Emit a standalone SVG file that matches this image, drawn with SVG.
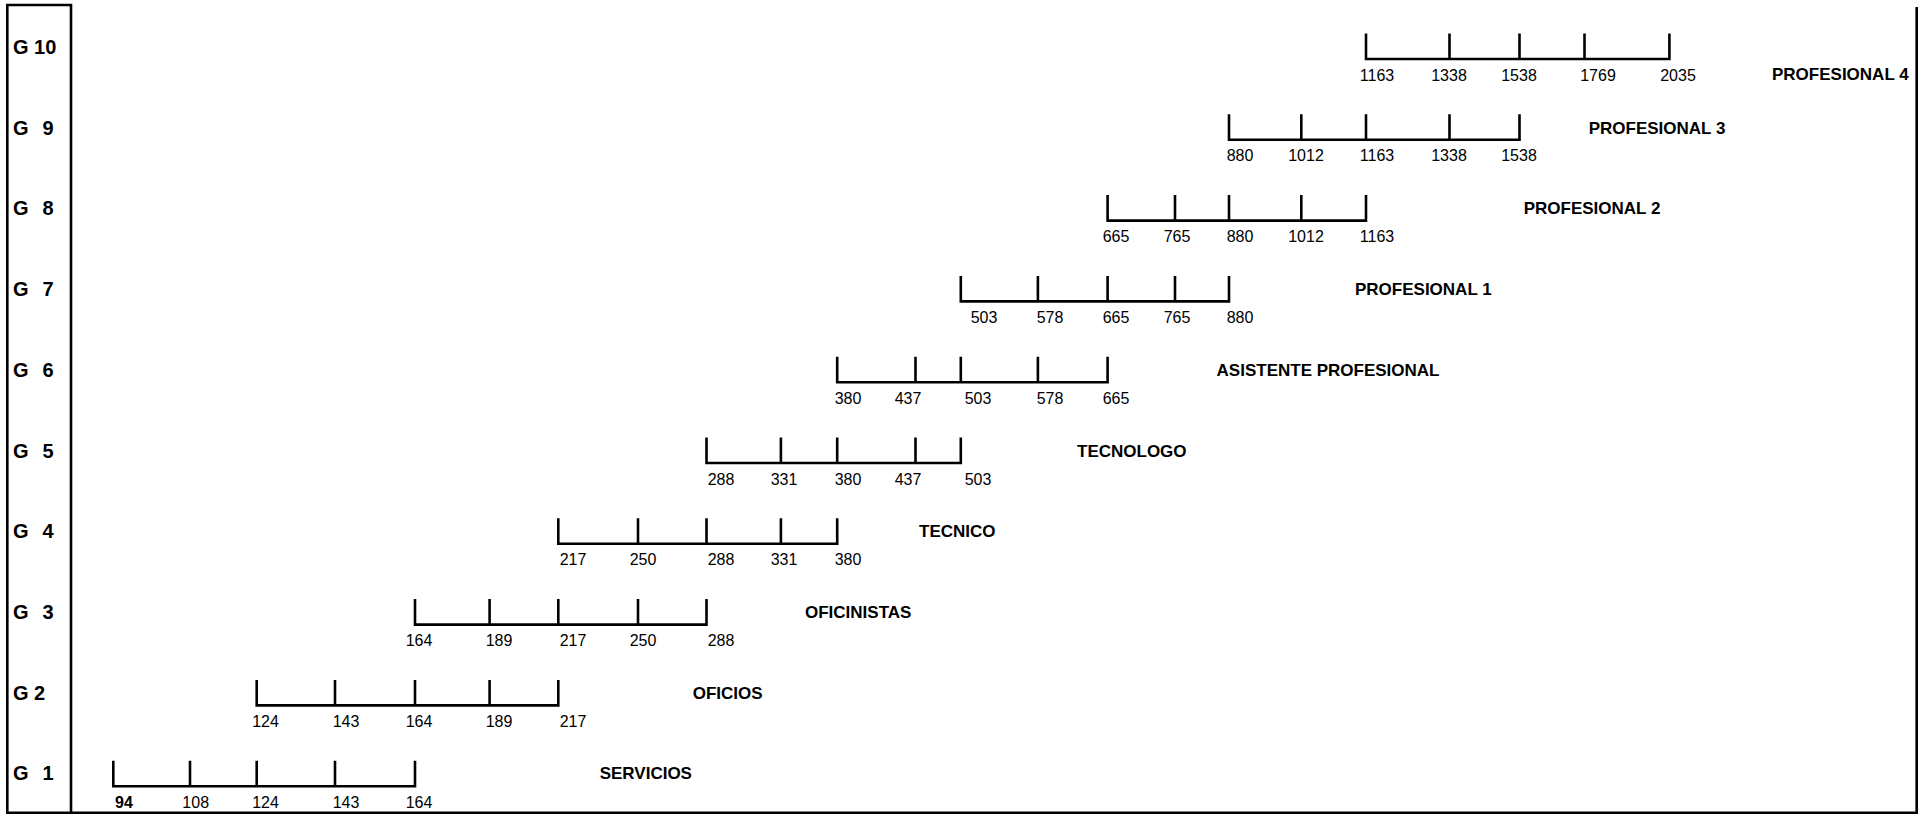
<svg xmlns="http://www.w3.org/2000/svg" width="1919" height="814" viewBox="0 0 1919 814">
  <style>
    .frame { fill: none; stroke: #000; stroke-width: 2.6; }
    .bar { fill: none; stroke: #000; stroke-width: 2.6; stroke-linejoin: miter; }
    .grade { font-family: "Liberation Sans", Arial, sans-serif; font-size: 20px; font-weight: bold; fill: #000; white-space: pre; }
    .num { font-family: "Liberation Sans", Arial, sans-serif; font-size: 16px; fill: #000; text-anchor: middle; }
    .numb { font-weight: bold; }
    .cat { font-family: "Liberation Sans", Arial, sans-serif; font-size: 17px; font-weight: bold; fill: #000; }
  </style>
  <rect width="1919" height="814" fill="#fff"/>

  <!-- outer frame: grade column and surrounding border -->
  <g id="frame">
    <path class="frame" d="M7.3,5 H71 M7.3,3.7 V812.7 M71,3.7 V812.7 M6,812.7 H1917 M1916.7,7 V814"/>
  </g>

  <!-- salary scale brackets, one per grade -->
  <g id="grade-10">
    <text class="grade" x="13" y="54" xml:space="preserve">G 10</text>
    <path class="bar" d="M1366,33.5 V59 H1669.4 V33.5 M1449.5,33.5 V59 M1519.5,33.5 V59 M1584.5,33.5 V59"/>
    <text class="num" x="1377" y="80.5">1163</text>
    <text class="num" x="1449" y="80.5">1338</text>
    <text class="num" x="1519" y="80.5">1538</text>
    <text class="num" x="1598" y="80.5">1769</text>
    <text class="num" x="1678" y="80.5">2035</text>
    <text class="cat" x="1772" y="80">PROFESIONAL 4</text>
  </g>

  <g id="grade-9">
    <text class="grade" x="13" y="134.7">G<tspan x="42.5">9</tspan></text>
    <path class="bar" d="M1229,114.3 V139.8 H1519.5 V114.3 M1301.3,114.3 V139.8 M1366,114.3 V139.8 M1449.5,114.3 V139.8"/>
    <text class="num" x="1240" y="161.3">880</text>
    <text class="num" x="1306" y="161.3">1012</text>
    <text class="num" x="1377" y="161.3">1163</text>
    <text class="num" x="1449" y="161.3">1338</text>
    <text class="num" x="1519" y="161.3">1538</text>
    <text class="cat" x="1588.7" y="133.7">PROFESIONAL 3</text>
  </g>

  <g id="grade-8">
    <text class="grade" x="13" y="215.4">G<tspan x="42.5">8</tspan></text>
    <path class="bar" d="M1107.6,195.1 V220.6 H1366 V195.1 M1175,195.1 V220.6 M1229,195.1 V220.6 M1301.3,195.1 V220.6"/>
    <text class="num" x="1116" y="242.1">665</text>
    <text class="num" x="1177" y="242.1">765</text>
    <text class="num" x="1240" y="242.1">880</text>
    <text class="num" x="1306" y="242.1">1012</text>
    <text class="num" x="1377" y="242.1">1163</text>
    <text class="cat" x="1523.7" y="214.4">PROFESIONAL 2</text>
  </g>

  <g id="grade-7">
    <text class="grade" x="13" y="296.1">G<tspan x="42.5">7</tspan></text>
    <path class="bar" d="M960.8,275.9 V301.4 H1229 V275.9 M1037.9,275.9 V301.4 M1107.6,275.9 V301.4 M1175,275.9 V301.4"/>
    <text class="num" x="984" y="322.9">503</text>
    <text class="num" x="1050" y="322.9">578</text>
    <text class="num" x="1116" y="322.9">665</text>
    <text class="num" x="1177" y="322.9">765</text>
    <text class="num" x="1240" y="322.9">880</text>
    <text class="cat" x="1355" y="295.1">PROFESIONAL 1</text>
  </g>

  <g id="grade-6">
    <text class="grade" x="13" y="376.8">G<tspan x="42.5">6</tspan></text>
    <path class="bar" d="M837.2,356.7 V382.2 H1107.6 V356.7 M915.5,356.7 V382.2 M960.8,356.7 V382.2 M1037.9,356.7 V382.2"/>
    <text class="num" x="848" y="403.7">380</text>
    <text class="num" x="908" y="403.7">437</text>
    <text class="num" x="978" y="403.7">503</text>
    <text class="num" x="1050" y="403.7">578</text>
    <text class="num" x="1116" y="403.7">665</text>
    <text class="cat" x="1216.6" y="375.8">ASISTENTE PROFESIONAL</text>
  </g>

  <g id="grade-5">
    <text class="grade" x="13" y="457.5">G<tspan x="42.5">5</tspan></text>
    <path class="bar" d="M706.5,437.5 V463 H960.8 V437.5 M780.9,437.5 V463 M837.2,437.5 V463 M915.5,437.5 V463"/>
    <text class="num" x="721" y="484.5">288</text>
    <text class="num" x="784" y="484.5">331</text>
    <text class="num" x="848" y="484.5">380</text>
    <text class="num" x="908" y="484.5">437</text>
    <text class="num" x="978" y="484.5">503</text>
    <text class="cat" x="1077" y="456.5">TECNOLOGO</text>
  </g>

  <g id="grade-4">
    <text class="grade" x="13" y="538.2">G<tspan x="42.5">4</tspan></text>
    <path class="bar" d="M558.3,518.3 V543.8 H837.2 V518.3 M638,518.3 V543.8 M706.5,518.3 V543.8 M780.9,518.3 V543.8"/>
    <text class="num" x="573" y="565.3">217</text>
    <text class="num" x="643" y="565.3">250</text>
    <text class="num" x="721" y="565.3">288</text>
    <text class="num" x="784" y="565.3">331</text>
    <text class="num" x="848" y="565.3">380</text>
    <text class="cat" x="919" y="537.2">TECNICO</text>
  </g>

  <g id="grade-3">
    <text class="grade" x="13" y="618.9">G<tspan x="42.5">3</tspan></text>
    <path class="bar" d="M415,599.1 V624.6 H706.5 V599.1 M489.6,599.1 V624.6 M558.3,599.1 V624.6 M638,599.1 V624.6"/>
    <text class="num" x="419" y="646.1">164</text>
    <text class="num" x="499" y="646.1">189</text>
    <text class="num" x="573" y="646.1">217</text>
    <text class="num" x="643" y="646.1">250</text>
    <text class="num" x="721" y="646.1">288</text>
    <text class="cat" x="805" y="617.9">OFICINISTAS</text>
  </g>

  <g id="grade-2">
    <text class="grade" x="13" y="699.6" xml:space="preserve">G 2</text>
    <path class="bar" d="M256.7,679.9 V705.4 H558.3 V679.9 M335,679.9 V705.4 M415,679.9 V705.4 M489.6,679.9 V705.4"/>
    <text class="num" x="265.5" y="726.9">124</text>
    <text class="num" x="346" y="726.9">143</text>
    <text class="num" x="419" y="726.9">164</text>
    <text class="num" x="499" y="726.9">189</text>
    <text class="num" x="573" y="726.9">217</text>
    <text class="cat" x="692.7" y="698.6">OFICIOS</text>
  </g>

  <g id="grade-1">
    <text class="grade" x="13" y="780.3">G<tspan x="42.5">1</tspan></text>
    <path class="bar" d="M113.3,760.7 V786.2 H415 V760.7 M190,760.7 V786.2 M256.7,760.7 V786.2 M335,760.7 V786.2"/>
    <text class="num numb" x="124" y="807.7">94</text>
    <text class="num" x="195.7" y="807.7">108</text>
    <text class="num" x="265.5" y="807.7">124</text>
    <text class="num" x="346" y="807.7">143</text>
    <text class="num" x="419" y="807.7">164</text>
    <text class="cat" x="599.7" y="779.3">SERVICIOS</text>
  </g>
</svg>
